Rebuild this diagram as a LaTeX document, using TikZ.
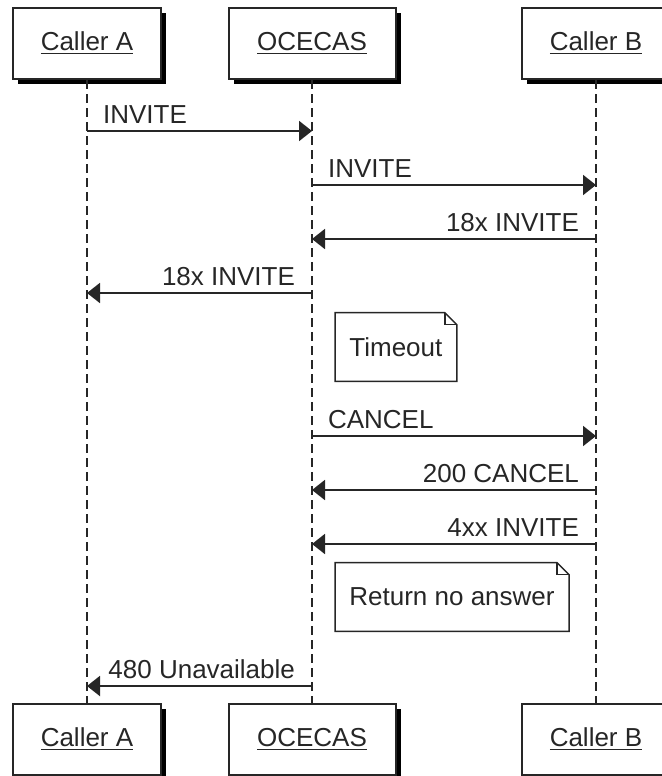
\documentclass[tikz,border=0pt]{standalone}
\usepackage{fontspec}
\setmainfont{Liberation Sans}
\usetikzlibrary{arrows.meta}
\usetikzlibrary{shadows}
\usetikzlibrary{positioning}

\begin{document}
\begin{tikzpicture} [x=0.5pt, y=-0.5pt, font=\fontsize{13}{15.6}\selectfont,
 box/.style={draw=black!85, line width=1pt, fill=white, text=black!85, minimum width=74pt, minimum height=35.5pt,
   drop shadow={shadow xshift=2.5pt, shadow yshift=-2.5pt, fill=black, opacity=1}},
 life/.style={black!85, line width=0.75pt, dash pattern=on 4.5pt off 2.5pt},
 msg/.style={black!85, line width=1pt, -{Triangle[length=6.5pt, width=10pt]}},
 lr/.style={pos=0, anchor=base west, xshift=4.2pt, yshift=4pt, text=black!85},
 rl/.style={pos=0, anchor=base east, xshift=-4.7pt, yshift=4pt, text=black!85},
 note/.style={minimum height=34pt, inner xsep=7pt, anchor=west, text=black!85}]
\useasboundingbox (0,0) rectangle (662,776);
% participants, top and bottom
\node[box] (a) at (87,43.5) {\underline{Caller A}};
\node[box, minimum width=83.5pt] (o) at (312,43.5) {\underline{OCECAS}};
\node[box] (b) at (596,43.5) {\underline{Caller B}};
\node[box] (a2) at (87,739.5) {\underline{Caller A}};
\node[box, minimum width=83.5pt] (o2) at (312,739.5) {\underline{OCECAS}};
\node[box] (b2) at (596,739.5) {\underline{Caller B}};
\foreach \n in {a,o,b} {
 \draw[life] (\n) -- (\n2);
}
% points on the lifelines
\foreach \i/\y in {1/131, 2/185, 3/239, 4/293, 5/436, 6/490, 7/544, 8/686} {
 \coordinate (a\i) at (a |- 0,\y);
 \coordinate (o\i) at (o |- 0,\y);
 \coordinate (b\i) at (b |- 0,\y);
}
\draw[msg] (a1) -- node[lr] {INVITE} (o1);
\draw[msg] (o2) -- node[lr] {INVITE} (b2);
\draw[msg] (b3) -- node[rl] {18x INVITE} (o3);
\draw[msg] (o4) -- node[rl] {18x INVITE} (a4);
\draw[msg] (o5) -- node[lr] {CANCEL} (b5);
\draw[msg] (b6) -- node[rl] {200 CANCEL} (o6);
\draw[msg] (b7) -- node[rl] {4xx INVITE} (o7);
\draw[msg] (o8) -- node[rl] {480 Unavailable} (a8);
% notes
\node[note] (timeout) at (335,347) {Timeout};
\node[note] (noanswer) at (335,597) {Return no answer};
\foreach \n in {timeout,noanswer} {
 \draw[black!85, line width=0.75pt] (\n.north west) -- ([xshift=-6pt]\n.north east) -- ([yshift=-6pt]\n.north east)
   -- (\n.south east) -- (\n.south west) -- cycle;
 \draw[black!85, line width=0.75pt] ([xshift=-6pt]\n.north east) -- ([xshift=-6pt,yshift=-6pt]\n.north east)
   -- ([yshift=-6pt]\n.north east);
}
\end{tikzpicture}
\end{document}
